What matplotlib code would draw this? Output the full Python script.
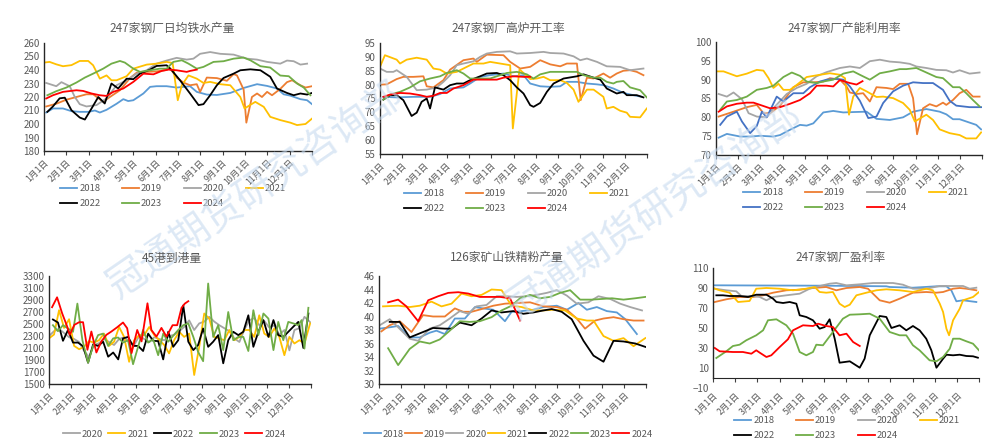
import matplotlib.pyplot as plt

plt.rcParams['font.family'] = ['Noto Sans CJK SC', 'DejaVu Sans']

months = ['1月1日', '2月1日', '3月1日', '4月1日', '5月1日', '6月1日',
          '7月1日', '8月1日', '9月1日', '10月1日', '11月1日', '12月1日']
years = ['2018', '2019', '2020', '2021', '2022', '2023', '2024']
colors = {'2018': '#5b9bd5', '2019': '#ed7d31', '2020': '#a5a5a5', '2021': '#ffc000',
          '2022': '#000000', '2023': '#70ad47', '2024': '#ff0000'}

# (month position, value); 0 = 1月1日, 12 = 年末
# 247家钢厂日均铁水产量
iron_2018 = [(0.10,208.5),(0.40,211.5),(0.85,211.5),(1.23,209.5),(1.60,209),(1.98,209),(2.28,210),(2.50,208.5),(2.80,210.5),(3.25,215),(3.55,218.4),(3.77,217),(4.00,217.6),(4.45,222.6),(4.75,227.5),(5.04,228),(5.49,228),(5.94,227),(6.54,228),(6.84,223.8),(7.29,221.8),(7.74,221.5),(8.34,223),(8.94,226.7),(9.54,229.5),(9.99,228.2),(10.43,226.3),(10.73,222),(11.03,221),(11.48,218.4),(11.78,217.6),(12.0,214.7)]
iron_2019 = [(0.10,213),(0.55,215),(1.00,218),(1.45,220),(1.90,222),(2.20,222),(2.65,216.5),(2.95,220),(3.40,225),(3.85,234),(4.15,238),(4.60,238.6),(5.04,239),(5.49,240),(5.64,241.5),(5.94,234.4),(6.24,230.7),(6.54,228.7),(6.84,229.5),(6.99,223.8),(7.29,234.4),(7.74,234),(8.19,232),(8.49,237),(8.64,236),(8.94,225.5),(9.06,201),(9.31,220),(9.54,222.6),(9.76,220),(9.99,223.8),(10.21,221.3),(10.58,226),(10.88,231),(11.11,232.4),(11.48,228.7),(11.71,227),(12.0,228)]
iron_2020 = [(0.10,230.4),(0.55,228),(0.78,231),(1.15,228),(1.38,220),(1.60,214.7),(1.90,213),(2.35,214),(2.80,219),(3.25,228.7),(3.70,232.4),(4.15,237.3),(4.60,239.8),(5.04,244.7),(5.49,247),(5.94,249),(6.39,247.7),(6.69,248.4),(6.99,252),(7.44,253.3),(7.89,252),(8.49,251.4),(9.09,248.4),(9.54,247.7),(9.99,246),(10.58,244.7),(10.88,247),(11.18,246.5),(11.48,244),(11.78,244.7)]
iron_2021 = [(0.0,245.5),(0.25,246),(0.55,244.2),(0.85,242.8),(1.23,243.6),(1.60,246.7),(1.98,246.7),(2.20,243.5),(2.50,233.6),(2.80,236),(3.02,232.4),(3.25,232.4),(3.70,235.4),(4.00,241),(4.60,244),(5.04,244.7),(5.49,246),(5.76,245.2),(5.99,217.6),(6.17,228.7),(6.47,236),(6.84,233.6),(7.14,230.4),(7.44,231.2),(7.89,229.5),(8.34,228.7),(8.79,220),(8.98,211.5),(9.46,216.4),(9.84,212.7),(10.13,205.3),(10.58,202.9),(11.03,201),(11.33,199.2),(11.71,200),(12.0,204)]
iron_2022 = [(0.15,209),(0.40,213),(0.70,219),(0.93,219.5),(1.23,210.2),(1.60,204.8),(1.83,203.3),(2.13,211.5),(2.43,220),(2.72,215.2),(3.02,230),(3.32,226.3),(3.70,233.6),(4.00,233.2),(4.30,237.3),(4.75,240.3),(5.04,243),(5.49,243.5),(5.72,239.8),(6.09,232.4),(6.54,222.6),(6.92,214),(7.14,214.7),(7.44,221.3),(7.74,228.7),(8.04,234.1),(8.49,237.3),(8.79,239.8),(9.24,240.5),(9.69,239.8),(10.13,235),(10.43,226.3),(10.88,223),(11.18,221.3),(11.48,222.6),(11.78,221.8),(12.0,223)]
iron_2023 = [(0.15,221.3),(0.55,224.3),(1.00,227),(1.45,230.7),(1.83,234.4),(2.20,237.3),(2.65,241),(3.02,244.7),(3.40,246.7),(3.62,245.5),(4.00,241),(4.30,238.6),(4.75,239.8),(5.19,241),(5.49,241),(5.79,246),(6.17,247.2),(6.47,244.7),(6.84,241),(7.14,242.3),(7.59,246),(8.04,246.5),(8.49,248.4),(8.94,249.2),(9.24,247.2),(9.69,242.8),(10.13,241.8),(10.58,235.9),(10.96,235.4),(11.33,230),(11.63,227),(11.93,221.3)]
iron_2024 = [(0.10,218.9),(0.40,221.3),(0.85,223.8),(1.45,225),(1.75,224.5),(2.13,222.6),(2.50,221.3),(2.80,220.8),(3.10,223.8),(3.55,226.3),(4.00,231.2),(4.45,237.3),(4.90,236.8),(5.27,239.3),(5.57,240.3),(5.94,239.8),(6.39,238.6),(6.54,239.3),(6.84,240.3)]

# 247家钢厂高炉开工率
bf_2018 = [(0.15,75.6),(0.75,75.4),(1.50,75.6),(2.25,75.6),(2.70,76.6),(3.15,78.6),(3.75,79),(4.05,80.4),(4.50,82.8),(4.95,83.4),(5.55,84),(6.00,83),(6.45,83.4),(6.75,80.4),(7.20,79.4),(7.65,79.2),(8.10,79.4),(8.40,81),(8.85,81),(9.30,80.4),(9.75,80.1),(10.04,79.8),(10.49,78.6),(10.94,77),(11.39,76.2),(11.77,75.6)]
bf_2019 = [(0.0,80),(0.30,80.1),(0.75,82),(1.05,82.8),(1.50,82.8),(1.95,83),(2.10,79.4),(2.40,79),(2.85,81.6),(3.15,85.4),(3.75,88.8),(4.20,89.4),(4.35,88.2),(4.80,90.8),(5.55,90.6),(5.85,88.2),(6.30,85.8),(6.75,86.4),(7.20,88.8),(7.65,87.3),(8.10,86.6),(8.40,87.6),(8.85,87.6),(9.02,74.4),(9.30,82.5),(9.60,82.2),(10.04,84),(10.34,82.5),(10.64,84),(10.94,85),(11.24,85.2),(11.54,84.6),(11.84,83.4)]
bf_2020 = [(0.0,85.8),(0.30,84.6),(0.60,84.6),(0.75,85.2),(1.20,82.8),(1.65,78),(2.10,78.2),(2.55,79),(2.85,81),(3.15,83.4),(3.45,87),(3.75,87.6),(4.20,88.4),(4.50,90),(4.80,91.2),(5.25,91.8),(5.85,92),(6.15,91.2),(6.75,91.4),(7.35,91.8),(7.65,91.4),(8.25,91.2),(8.70,90.2),(9.00,88.8),(9.30,89.4),(9.75,88.2),(10.19,86.6),(10.79,86.4),(11.24,85.2),(11.84,85.8)]
bf_2021 = [(0.0,86.4),(0.22,90.6),(0.75,89),(0.90,87.6),(1.20,89),(1.65,89.7),(2.10,89),(2.40,85.8),(2.70,85.4),(3.00,84),(3.45,84.6),(3.75,85.8),(4.20,87.6),(4.65,87.6),(4.95,88.2),(5.40,87.6),(5.85,87),(5.97,64.2),(6.27,85.5),(6.75,82),(7.05,82.2),(7.35,82.8),(7.65,81.6),(8.10,81.6),(8.40,80.6),(8.70,78.2),(8.92,73.8),(9.30,78.2),(9.60,78.2),(10.04,75.6),(10.19,71.4),(10.49,72),(10.79,70.6),(11.09,69.9),(11.24,68.4),(11.69,68.2),(11.99,71.4)]
bf_2022 = [(0.15,74.6),(0.45,76.2),(0.75,76.2),(1.05,74.4),(1.42,68.7),(1.65,69.9),(1.87,73.8),(2.10,75),(2.25,71.4),(2.47,79),(2.85,78.2),(3.15,79.8),(3.45,80.4),(3.75,80.4),(4.05,81.6),(4.50,83),(4.80,84),(5.25,84.2),(5.55,83.4),(5.85,81.6),(6.15,79),(6.45,76.8),(6.75,72.6),(6.90,72),(7.20,73.4),(7.50,77.4),(7.80,80.4),(8.25,82.2),(8.85,83),(9.15,83.7),(9.60,82.5),(9.90,81.8),(10.19,78.6),(10.64,76.8),(10.94,77.4),(11.09,76.2),(11.54,76.2),(11.84,75.4)]
bf_2023 = [(0.15,74.6),(0.45,76.4),(0.90,77.4),(1.35,79),(1.80,81.2),(2.25,82.2),(2.70,83),(3.00,84.2),(3.45,85.2),(3.75,84),(4.05,82.2),(4.50,82.2),(4.95,82.2),(5.40,83.4),(5.70,84.2),(6.15,84.6),(6.60,83.7),(6.90,82.2),(7.20,83.7),(7.65,84.6),(7.95,84.6),(8.25,84.6),(8.85,84.6),(9.15,83.4),(9.60,82.5),(9.90,82.5),(10.19,81),(10.49,80.4),(10.64,81),(10.94,81.3),(11.24,79),(11.69,78),(11.99,75.4)]
bf_2024 = [(0.15,75.6),(0.45,76.4),(0.90,77),(1.35,76.8),(1.80,76.2),(2.10,75.6),(2.40,76),(2.70,77),(3.00,77),(3.30,78.6),(3.75,79.8),(4.20,81.8),(4.65,81.8),(5.25,81.8),(5.55,82.5),(6.00,83),(6.45,82.8),(6.75,82.8)]

# 247家钢厂产能利用率
cap_2018 = [(0.12,74.6),(0.49,75.6),(1.09,74.9),(1.54,74.9),(1.99,75.1),(2.59,74.9),(2.89,75.3),(3.34,76.7),(3.79,78),(4.09,77.8),(4.39,78.4),(4.84,81.3),(5.29,81.7),(5.74,81.3),(6.19,81.4),(6.79,81.5),(7.24,79.6),(7.84,79.3),(8.44,80),(8.89,81.5),(9.49,82.2),(10.09,81.5),(10.39,80.8),(10.69,79.5),(10.99,79.5),(11.29,78.9),(11.74,78),(11.96,76.8)]
cap_2019 = [(0.12,80.2),(0.79,81.5),(1.39,82.7),(1.84,83.3),(2.14,81.1),(2.44,81.1),(2.89,83.1),(3.19,85.5),(3.49,88),(3.94,89.3),(4.39,89.3),(4.84,89.5),(5.14,90.4),(5.59,90),(5.89,88.2),(6.04,86.6),(6.34,86.2),(6.64,86.4),(6.94,84.2),(7.24,88),(7.69,87.8),(7.99,87.5),(8.29,88.9),(8.67,88.9),(8.89,85.1),(9.07,75.5),(9.34,82.4),(9.64,83.5),(9.94,82.9),(10.24,83.9),(10.39,83.3),(10.69,84.6),(10.99,86.4),(11.29,87.3),(11.59,85.5),(11.89,85.5)]
cap_2020 = [(0.12,86.2),(0.49,85.5),(0.79,86.6),(1.17,84.8),(1.47,81.1),(1.84,80.2),(2.29,80),(2.59,82.4),(3.19,86.2),(3.64,87.8),(4.09,88.9),(4.54,90.9),(4.99,92),(5.59,93.1),(6.04,93.5),(6.49,93.1),(6.94,94.9),(7.39,95.3),(7.84,94.8),(8.29,94.6),(8.74,94.2),(9.04,93.5),(9.49,93.1),(9.94,92.6),(10.39,92.5),(10.69,91.9),(10.99,92.5),(11.44,91.6),(11.89,91.9)]
cap_2021 = [(0.0,92.2),(0.34,92.2),(0.94,90.9),(1.39,91.6),(1.84,92.6),(2.14,92.4),(2.37,90.4),(2.59,87.8),(2.82,88.9),(3.04,87.3),(3.34,87.3),(3.64,88.6),(4.09,90.7),(4.69,91.3),(5.14,91.7),(5.59,91.3),(5.82,90.4),(6.00,80.7),(6.19,85.5),(6.49,87.8),(6.79,86.9),(7.24,85.4),(7.54,85.5),(7.99,85.1),(8.44,83.8),(8.74,82),(8.97,78.9),(9.49,80.7),(9.79,79.3),(10.09,76.8),(10.54,75.8),(10.99,75.3),(11.29,74.4),(11.74,74.4),(11.96,76)]
cap_2022 = [(0.19,78),(0.49,80.2),(0.94,81.5),(1.17,78.9),(1.54,75.8),(1.84,77.7),(2.07,81.5),(2.29,80),(2.74,85.5),(3.04,84.2),(3.49,86.4),(3.94,86.4),(4.24,88),(4.69,89.5),(4.99,90),(5.44,90.2),(5.74,90),(6.04,88.2),(6.49,84.4),(6.87,79.8),(7.24,80.2),(7.54,83.8),(7.99,86.9),(8.44,88.4),(8.89,89.3),(9.34,89.1),(9.79,89.1),(10.24,87.3),(10.54,84.4),(10.84,83.1),(11.14,82.9),(11.44,82.7),(11.96,82.7)]
cap_2023 = [(0.19,82),(0.49,84.2),(0.94,84.6),(1.39,85.5),(1.84,87.3),(2.29,87.8),(2.59,88.4),(3.04,90.7),(3.42,91.9),(3.79,91),(4.09,89.5),(4.54,89.1),(4.84,89.5),(5.29,90),(5.74,91.6),(6.19,92.2),(6.49,91.3),(6.94,90),(7.39,91.7),(7.84,92.2),(8.29,92.8),(8.59,92.8),(9.04,93.1),(9.49,91.9),(9.94,90.7),(10.24,90.4),(10.69,88),(10.99,88),(11.29,86.4),(11.59,84.6),(11.89,82.9)]
cap_2024 = [(0.12,81.5),(0.49,82.9),(0.94,83.6),(1.39,83.9),(1.69,83.9),(1.99,83.3),(2.44,82.4),(2.89,82.7),(3.34,83.6),(3.79,84.6),(4.24,86.4),(4.54,88.4),(4.99,88.4),(5.29,88.2),(5.59,89.9),(6.04,89.1),(6.34,88.7),(6.61,89.6)]

# 45港到港量
port_2020 = [(0.0,2300),(0.23,2380),(0.46,2420),(0.69,2350),(0.92,2280),(1.15,2250),(1.38,2200),(1.61,2050),(1.83,1950),(2.06,2150),(2.29,2180),(2.52,2250),(2.75,2200),(2.98,2150),(3.21,2250),(3.44,2280),(3.67,2200),(3.90,2150),(4.13,2300),(4.36,2250),(4.59,2200),(4.82,2280),(5.05,2250),(5.28,2230),(5.50,2300),(5.73,2320),(5.96,2380),(6.19,2450),(6.42,2560),(6.65,2400),(6.88,2510),(7.11,2540),(7.34,2620),(7.57,2540),(7.80,2480),(8.03,2430),(8.26,2380),(8.49,2260),(8.72,2200),(8.94,2400),(9.17,2560),(9.40,2600),(9.63,2480),(9.86,2550),(10.09,2440),(10.32,2480),(10.55,2320),(10.78,2400),(11.01,2060),(11.24,2400),(11.47,2430),(11.70,2620),(11.96,2530)]
port_2021 = [(0.0,2260),(0.23,2325),(0.46,2730),(0.69,2435),(0.92,2580),(1.15,2135),(1.38,2080),(1.61,2120),(1.83,2215),(2.06,2190),(2.29,2230),(2.52,2340),(2.75,2135),(2.98,2205),(3.21,2450),(3.44,2285),(3.67,1870),(3.90,2230),(4.13,2315),(4.36,2315),(4.59,2450),(4.82,2315),(5.05,2230),(5.28,2150),(5.50,2010),(5.73,2230),(5.96,2370),(6.19,2285),(6.42,2340),(6.65,1650),(6.88,2120),(7.11,2675),(7.34,2590),(7.57,2285),(7.80,2260),(8.03,2230),(8.26,2400),(8.49,2230),(8.72,2285),(8.94,2400),(9.17,2400),(9.40,2285),(9.63,2645),(9.86,2340),(10.09,2285),(10.32,2425),(10.55,2285),(10.78,1980),(11.01,2285),(11.24,2175),(11.47,2230),(11.70,2175),(11.96,2510)]
port_2022 = [(0.18,2575),(0.41,2525),(0.64,2220),(0.87,2400),(1.10,2190),(1.33,2190),(1.56,2130),(1.79,1855),(2.02,2160),(2.25,2135),(2.48,2205),(2.71,1955),(2.94,2025),(3.17,1910),(3.39,2260),(3.62,2285),(3.85,2135),(4.08,2135),(4.31,2050),(4.54,2340),(4.77,2220),(5.00,2215),(5.23,1910),(5.46,2370),(5.69,2120),(5.92,2230),(6.15,2810),(6.38,2205),(6.61,2065),(6.83,2150),(7.06,2425),(7.29,2120),(7.52,2205),(7.75,2315),(7.98,1845),(8.21,2230),(8.44,2370),(8.67,2315),(8.90,2370),(9.13,2645),(9.36,2120),(9.59,2370),(9.82,2565),(10.05,2285),(10.28,2565),(10.50,2315),(10.73,2285),(10.96,2370),(11.19,2455),(11.42,2535),(11.65,2100),(11.88,2675)]
port_2023 = [(0.18,2480),(0.41,2380),(0.64,2480),(0.87,2425),(1.10,2370),(1.30,2840),(1.53,2230),(1.79,1855),(2.02,2135),(2.25,2315),(2.48,2340),(2.71,2135),(2.94,2260),(3.17,2275),(3.39,2190),(3.62,2230),(3.85,1830),(4.08,2120),(4.31,2400),(4.54,2190),(4.77,2245),(5.00,1980),(5.23,2340),(5.46,2205),(5.69,2305),(5.92,2400),(6.15,2480),(6.38,2510),(6.61,2285),(6.83,2035),(7.06,1880),(7.29,3175),(7.52,2285),(7.75,2480),(7.98,2065),(8.21,2700),(8.44,2230),(8.67,2285),(8.90,2285),(9.13,2050),(9.36,2730),(9.59,2315),(9.82,2675),(10.05,2590),(10.28,2065),(10.50,2535),(10.73,2230),(10.96,2535),(11.19,2510),(11.42,2480),(11.57,2565),(11.70,2090),(11.88,2770)]
port_2024 = [(0.14,2780),(0.37,2945),(0.60,2680),(0.83,2460),(0.95,2320),(1.16,2485),(1.38,2530),(1.56,2530),(1.76,2070),(1.94,2375),(2.17,2025),(2.40,2210),(2.63,2320),(2.86,2375),(3.12,2445),(3.39,2525),(3.58,2430),(3.78,2015),(4.04,2400),(4.24,2210),(4.51,2845),(4.69,2400),(4.92,2290),(5.15,2435),(5.38,2290),(5.66,2480),(5.87,2480),(6.07,2770),(6.22,2840),(6.38,2880)]

# 126家矿山铁精粉产量
ore_2018 = [(0.03,38.2),(0.48,38.4),(0.86,38.6),(1.38,36.9),(1.83,36.9),(2.28,37.6),(2.58,37.9),(2.96,37.4),(3.41,39.7),(3.86,39.7),(4.31,41.4),(4.68,41.2),(5.14,41),(5.66,39.3),(5.96,40.7),(6.41,40.8),(6.94,41),(7.39,41.4),(7.99,41.6),(8.44,41),(8.96,42),(9.34,41),(9.79,41.4),(10.24,40.8),(10.69,40.6),(11.07,39.6),(11.59,37.4)]
ore_2019 = [(0.11,37.8),(0.48,38.7),(0.93,39.3),(1.46,37.7),(1.98,40.2),(2.43,40),(2.96,40),(3.41,41.2),(3.78,40.7),(4.16,40.7),(4.61,41.1),(5.14,41.6),(5.66,41.9),(6.19,42),(6.79,42.1),(7.39,41.5),(7.99,41.4),(8.44,41),(8.89,39.7),(9.26,38.2),(9.71,39.4),(10.09,39.7),(10.54,39.9),(10.99,39.6),(11.44,39.4),(11.89,39.4)]
ore_2020 = [(0.03,38.7),(0.48,39.6),(0.86,38.4),(1.38,36.7),(1.76,36.4),(2.28,38.2),(2.73,38.7),(3.18,39.7),(3.63,40.8),(4.01,40.4),(4.38,41.5),(4.83,41.7),(5.29,43),(5.74,43),(6.19,42.9),(6.64,43),(7.09,43.2),(7.54,43.5),(7.99,43.9),(8.44,43.1),(8.89,41.9),(9.41,42.1),(9.86,43),(10.39,42.6),(10.84,41.9),(11.29,41.4),(11.82,40.9)]
ore_2021 = [(0.18,41.5),(0.86,41.6),(1.38,41.4),(1.83,41.6),(2.36,42.2),(2.81,41.5),(3.26,41.9),(3.71,43.4),(4.16,43),(4.61,43.2),(5.06,44),(5.51,43.9),(5.96,41.6),(6.41,41.4),(6.94,40.9),(7.39,40.9),(7.84,41),(8.36,40.9),(8.89,39.7),(9.34,39.4),(9.64,39.4),(10.09,37.1),(10.54,36.4),(10.99,36.8),(11.44,35.6),(11.97,36.8)]
ore_2022 = [(0.48,39.2),(0.93,39.2),(1.38,36.9),(1.98,37.7),(2.43,38.3),(2.96,38.2),(3.26,38.2),(3.63,39.1),(4.16,38.7),(4.61,39.7),(5.06,40.9),(5.51,40.6),(6.04,40.8),(6.49,40.4),(6.94,40.6),(7.39,40.9),(7.76,41.1),(8.21,40.7),(8.66,39.6),(9.19,36.4),(9.64,34.2),(10.09,33.3),(10.54,36.4),(10.99,36.3),(11.52,36),(11.97,35.5)]
ore_2023 = [(0.41,35.3),(0.86,32.8),(1.38,35.2),(1.83,36.3),(2.28,36),(2.73,36.6),(3.18,37.9),(3.63,39.3),(4.08,39.2),(4.53,39.3),(5.06,39.9),(5.51,40.9),(5.96,41.6),(6.34,42.7),(6.79,43.2),(7.24,42.7),(7.69,42.9),(8.14,43.5),(8.59,43.9),(9.04,42.5),(9.56,42.5),(10.02,42.6),(10.47,42.7),(10.99,42.5),(11.52,42.7),(11.97,42.9)]
ore_2024 = [(0.41,42.1),(0.86,42.5),(1.23,41.5),(1.76,39.3),(2.21,42.4),(2.66,43),(3.11,43.5),(3.56,43.6),(4.01,43.4),(4.53,42.9),(4.98,42.9),(5.44,42.9),(5.89,42.7),(6.34,39.4)]

# 247家钢厂盈利率
profit_2018 = [(0.08,92.7),(2.11,92.5),(5.11,92.3),(7.82,91.7),(7.97,91),(9.02,90.3),(10.08,91.7),(10.53,91.7),(10.75,87.7),(10.98,76.7),(11.28,77.7),(11.88,76)]
profit_2019 = [(0.08,76),(0.60,78.7),(1.20,81),(1.80,81),(2.26,82.7),(2.71,85.3),(3.31,87.7),(3.91,88.3),(4.51,90),(5.11,91),(5.56,87.7),(6.02,90),(6.62,91),(6.99,89.3),(7.52,77.7),(7.97,75.3),(8.42,79.3),(9.02,85.3),(9.62,86),(10.08,85.3),(10.38,86),(10.83,89.3),(11.13,90),(11.43,89.3),(11.88,87.7)]
profit_2020 = [(0.08,89.3),(0.60,87.7),(1.05,86.7),(1.28,82),(1.80,82),(2.11,81),(2.41,77.7),(2.71,81),(3.31,82.7),(3.91,84.3),(4.36,89.3),(4.81,92),(5.26,94.3),(5.56,95),(6.02,92.7),(6.62,93.7),(7.22,95),(8.12,95),(8.57,93.3),(9.02,89.3),(9.62,89.3),(10.23,92),(10.83,92),(11.28,92),(11.58,89.3),(11.88,90.3)]
profit_2021 = [(0.0,90),(0.30,87.7),(0.75,85.3),(1.13,76),(1.65,77),(1.95,89.3),(2.41,90),(3.01,89.3),(3.61,87.7),(4.21,89.3),(4.59,91),(4.81,86),(5.11,85.3),(5.41,86),(5.71,74.3),(5.94,71),(6.17,73.3),(6.47,82.7),(6.92,85.3),(7.37,87.7),(7.82,88.7),(8.42,87.7),(9.02,86),(9.62,89.3),(9.92,87.7),(10.23,74.3),(10.38,66),(10.53,49.3),(10.65,42.7),(10.83,57.7),(11.13,69.3),(11.28,77.7),(11.73,81),(12.0,86)]
profit_2022 = [(0.15,82.7),(0.45,82.7),(0.75,82),(1.20,82),(1.58,81),(1.95,83.3),(2.41,83.3),(2.71,79.3),(2.86,76),(3.16,75),(3.46,76),(3.76,74.3),(3.91,62.7),(4.21,61),(4.51,57.7),(4.81,49.3),(5.04,51),(5.26,58.7),(5.49,39.3),(5.71,15.3),(6.17,16.7),(6.62,10.3),(6.84,19.3),(7.07,42.7),(7.52,62),(7.82,61),(8.05,50),(8.42,52.7),(8.72,47.7),(9.02,52),(9.32,47.7),(9.62,39.3),(9.85,27.7),(10.08,10.3),(10.38,19.3),(10.53,23.3),(10.83,22.7),(11.13,23.3),(11.43,22),(11.73,21.7),(11.95,20.3)]
profit_2023 = [(0.15,20),(0.60,26.7),(0.90,32),(1.20,33.3),(1.50,37.7),(1.95,42.7),(2.26,47.7),(2.48,57.7),(2.86,58.7),(3.31,52.7),(3.61,44.3),(3.91,26),(4.21,22.7),(4.51,26),(4.66,33.3),(4.96,32.7),(5.41,46),(5.86,59.3),(6.17,63.3),(6.62,63.7),(7.07,64.3),(7.52,59.3),(7.97,46),(8.42,42.7),(8.72,42.7),(9.02,32.7),(9.32,27.7),(9.77,17.7),(10.08,16.7),(10.38,21),(10.68,29.3),(10.83,39.3),(11.13,39.3),(11.43,36.7),(11.73,34.3),(12.0,27.7)]
profit_2024 = [(0.08,30),(0.30,26.7),(0.90,26),(1.35,26),(1.73,24.3),(1.95,27.7),(2.11,25.3),(2.41,21),(2.63,22.7),(3.01,31),(3.38,38.7),(3.61,47.7),(4.06,52.7),(4.51,52),(4.74,54.3),(5.11,52),(5.41,51),(5.71,42.7),(6.02,44.3),(6.32,36),(6.62,32)]

W, H = 990, 444
TXT = '#595959'
fig = plt.figure(figsize=(W / 100, H / 100), dpi=100)


def fx(x):
    return x / W


def fy(y):
    return 1 - y / H


def panel(box, title, title_xy, data, yticks, leg_xy, ncol, colsp, cols=colors, zero_axis=False):
    l, r, t, b = box
    ax = fig.add_axes([fx(l), fy(b), fx(r - l), (b - t) / H])
    for yr in data:
        pts = data[yr]
        ax.plot([p[0] for p in pts], [p[1] for p in pts], color=cols[yr], lw=1.3, label=yr)
    ax.set_xlim(0, 12)
    ax.set_ylim(yticks[0], yticks[-1])
    ax.set_yticks(yticks)
    ax.set_xticks(range(13))
    ax.set_xticklabels(months + [''], rotation=45, ha='right', rotation_mode='anchor')
    ax.tick_params(axis='y', length=0, labelsize=7, colors=TXT, pad=3)
    ax.tick_params(axis='x', length=3, labelsize=6.3, colors=TXT, pad=2, color='#404040')
    for s in ('top', 'right'):
        ax.spines[s].set_visible(False)
    for s in ('left', 'bottom'):
        ax.spines[s].set_color('#262626')
        ax.spines[s].set_linewidth(1)
    if zero_axis:
        # 横轴交于 0，标签放在最低处
        ax.spines['bottom'].set_visible(False)
        ax.tick_params(axis='x', length=0)
        ax.spines['left'].set_bounds(0, yticks[-1])
        frac = (0 - yticks[0]) / (yticks[-1] - yticks[0])
        sec = ax.secondary_xaxis(frac)
        sec.set_xticks(range(13))
        sec.set_xticklabels([])
        sec.tick_params(length=3, color='#404040')
        sec.spines['bottom'].set_color('#262626')
    fig.text(fx(title_xy[0]), fy(title_xy[1]), title, ha='center', va='center',
             fontsize=8.5, color=TXT)
    handles, labs = ax.get_legend_handles_labels()
    order = [0, 4, 1, 5, 2, 6, 3] if ncol == 4 else list(range(len(labs)))
    ax.legend([handles[i] for i in order], [labs[i] for i in order], ncol=ncol,
              loc='center', bbox_to_anchor=(fx(leg_xy[0]), fy(leg_xy[1])),
              bbox_transform=fig.transFigure, frameon=False, fontsize=6.8,
              labelcolor=TXT, handlelength=1.8, handletextpad=0.2,
              columnspacing=colsp, labelspacing=0.6, borderpad=0)
    return ax


panel((44, 312, 43, 151), '247家钢厂日均铁水产量', (172, 28),
      dict(zip(years, [iron_2018, iron_2019, iron_2020, iron_2021, iron_2022, iron_2023, iron_2024])),
      list(range(180, 261, 10)), (173, 196), 4, 2.3)

panel((380, 647, 43, 154), '247家钢厂高炉开工率', (508, 28),
      dict(zip(years, [bf_2018, bf_2019, bf_2020, bf_2021, bf_2022, bf_2023, bf_2024])),
      list(range(55, 96, 5)), (517, 201), 4, 2.3)

cap_colors = dict(colors)
cap_colors['2022'] = '#4472c4'
panel((716, 982, 42, 155), '247家钢厂产能利用率', (844, 28),
      dict(zip(years, [cap_2018, cap_2019, cap_2020, cap_2021, cap_2022, cap_2023, cap_2024])),
      list(range(70, 101, 5)), (856, 200), 4, 2.3, cols=cap_colors)

panel((49, 311, 276, 384), '45港到港量', (172, 258),
      dict(zip(years[2:], [port_2020, port_2021, port_2022, port_2023, port_2024])),
      list(range(1500, 3301, 200)), (174, 434), 5, 0.6)

panel((379, 646, 276, 384), '126家矿山铁精粉产量', (507, 257),
      dict(zip(years, [ore_2018, ore_2019, ore_2020, ore_2021, ore_2022, ore_2023, ore_2024])),
      list(range(30, 47, 2)), (508, 434), 7, 0.15)

panel((713, 979, 268, 388), '247家钢厂盈利率', (841, 257),
      dict(zip(years, [profit_2018, profit_2019, profit_2020, profit_2021, profit_2022, profit_2023, profit_2024])),
      list(range(-10, 111, 20)), (847, 428), 4, 2.3, zero_axis=True)

# 水印
for cx, cy in [(256, 190), (655, 211)]:
    fig.text(fx(cx), fy(cy), '冠通期货研究咨询部', rotation=34.5, ha='center', va='center',
             rotation_mode='anchor', fontsize=28, color='#c6daef', alpha=0.6, zorder=0)

fig.savefig('out.png', dpi=100)
